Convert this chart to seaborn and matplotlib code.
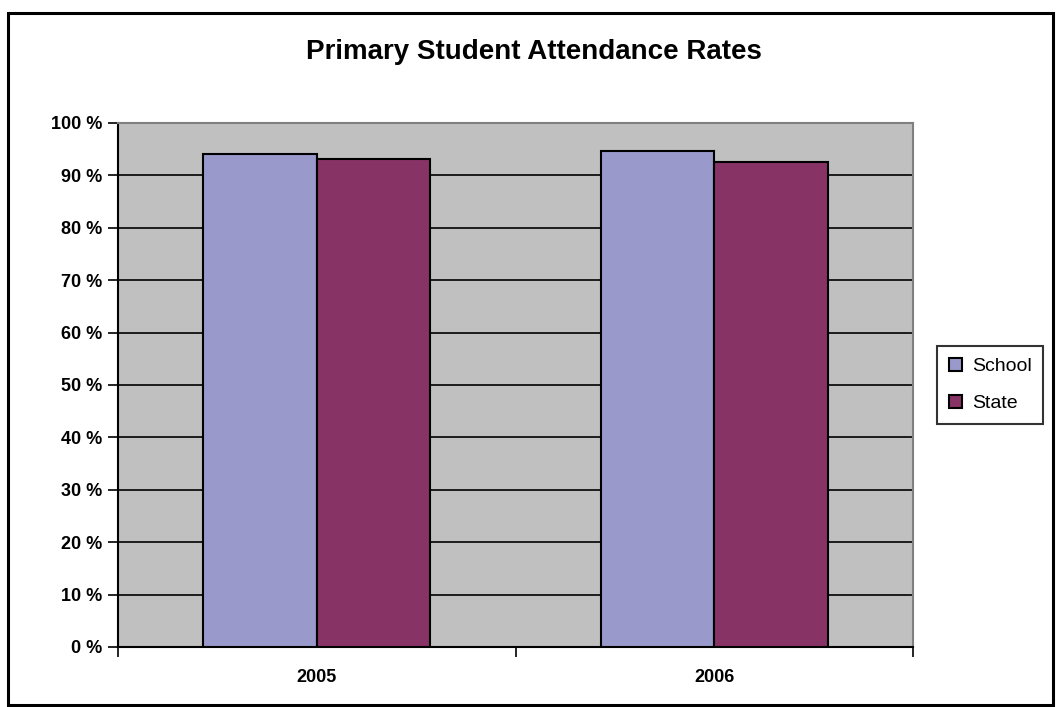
import matplotlib
matplotlib.use('Agg')
import matplotlib.pyplot as plt
import pandas as pd
import seaborn as sns
from matplotlib.patches import Rectangle
from matplotlib.ticker import FixedLocator

# Data
years = ['2005', '2006']
series = ['School', 'State']
school = [94.1, 94.6]
state = [93.1, 92.6]

df = pd.DataFrame({
    'Year': years * 2,
    'Group': ['School'] * 2 + ['State'] * 2,
    'Rate': school + state,
})

sns.set_style('white')
plt.rcParams['font.family'] = ['Liberation Sans', 'DejaVu Sans']
plt.rcParams['text.color'] = 'black'
plt.rcParams['xtick.color'] = 'black'
plt.rcParams['ytick.color'] = 'black'

fig = plt.figure(figsize=(10.58, 7.07), dpi=100)
ax = fig.add_axes([0.1115, 0.0849, 0.7515, 0.7412])

# outer chart frame
fig.patches.append(Rectangle((8 / 1058, 2 / 707), 1045 / 1058, 692 / 707,
                             transform=fig.transFigure, fill=False,
                             edgecolor='black', linewidth=2.2))

sns.barplot(data=df, x='Year', y='Rate', hue='Group', hue_order=series,
            palette=['#9999CC', '#883366'], saturation=1, width=0.57, gap=0,
            edgecolor='black', linewidth=1.5, ax=ax, legend=True, zorder=3)

ax.set_facecolor('#C0C0C0')
ax.set_ylim(0, 100)
ax.set_xlim(-0.5, 1.5)
ax.set_yticks(range(0, 101, 10))
ax.set_yticklabels([f'{v} %' for v in range(0, 101, 10)])
ax.yaxis.grid(True, color='black', linewidth=1.2, zorder=0)
ax.set_axisbelow(True)
ax.set_xlabel('')
ax.set_ylabel('')

# x ticks at category boundaries, labels at centres
ax.xaxis.set_major_locator(FixedLocator([-0.5, 0.5, 1.5]))
ax.xaxis.set_major_formatter(plt.NullFormatter())
ax.xaxis.set_minor_locator(FixedLocator([0, 1]))
ax.set_xticklabels(years, minor=True)
ax.tick_params(axis='x', which='major', bottom=True, direction='out', length=7,
               width=1.2, color='black')
ax.tick_params(axis='x', which='minor', bottom=True, length=0, pad=16, labelsize=13)
ax.tick_params(axis='y', left=True, direction='out', length=7, width=1.2, color='black',
               labelsize=13, pad=4)
for lab in ax.get_yticklabels() + ax.get_xticklabels(minor=True):
    lab.set_fontweight('bold')

for side in ['left', 'bottom']:
    ax.spines[side].set_color('black')
    ax.spines[side].set_linewidth(1.5)
for side in ['top', 'right']:
    ax.spines[side].set_color('#808080')
    ax.spines[side].set_linewidth(1.5)

fig.text(0.505, 0.926, 'Primary Student Attendance Rates', ha='center', va='center',
         fontsize=20, fontweight='bold', color='black')

handles, labels = ax.get_legend_handles_labels()
leg = ax.legend(handles, labels, loc='center left', bbox_to_anchor=(1.03, 0.5),
                frameon=True, fancybox=False, edgecolor='black', fontsize=14,
                handlelength=0.7, handleheight=0.7, handletextpad=0.5,
                borderpad=0.6, labelspacing=1.0, borderaxespad=0)
leg.get_frame().set_linewidth(1.5)

fig.savefig('out.png', dpi=100)
